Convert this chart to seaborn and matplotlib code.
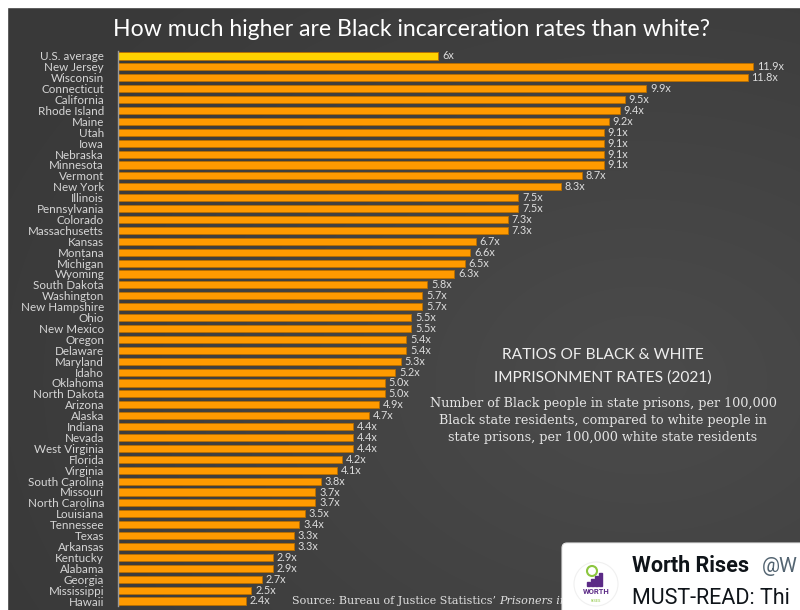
import numpy as np
import pandas as pd
import matplotlib
matplotlib.use("Agg")
import matplotlib.pyplot as plt
from matplotlib.patches import Rectangle, FancyBboxPatch, Circle
from matplotlib.transforms import Bbox
import seaborn as sns

states = ["U.S. average", "New Jersey", "Wisconsin", "Connecticut", "California",
          "Rhode Island", "Maine", "Utah", "Iowa", "Nebraska", "Minnesota", "Vermont",
          "New York", "Illinois", "Pennsylvania", "Colorado", "Massachusetts", "Kansas",
          "Montana", "Michigan", "Wyoming", "South Dakota", "Washington", "New Hampshire",
          "Ohio", "New Mexico", "Oregon", "Delaware", "Maryland", "Idaho", "Oklahoma",
          "North Dakota", "Arizona", "Alaska", "Indiana", "Nevada", "West Virginia",
          "Florida", "Virginia", "South Carolina", "Missouri", "North Carolina",
          "Louisiana", "Tennessee", "Texas", "Arkansas", "Kentucky", "Alabama",
          "Georgia", "Mississippi", "Hawaii"]
ratios = [6.0, 11.9, 11.8, 9.9, 9.5, 9.4, 9.2, 9.1, 9.1, 9.1, 9.1, 8.7, 8.3, 7.5, 7.5,
          7.3, 7.3, 6.7, 6.6, 6.5, 6.3, 5.8, 5.7, 5.7, 5.5, 5.5, 5.4, 5.4, 5.3, 5.2,
          5.0, 5.0, 4.9, 4.7, 4.4, 4.4, 4.4, 4.2, 4.1, 3.8, 3.7, 3.7, 3.5, 3.4, 3.3,
          3.3, 2.9, 2.9, 2.7, 2.5, 2.4]
value_labels = ["6x"] + [f"{v:.1f}x" for v in ratios[1:]]
groups = ["avg"] + ["state"] * (len(states) - 1)

df = pd.DataFrame({"state": states, "ratio": ratios, "group": groups})

sns.set_theme(style="white")
plt.rcParams["font.family"] = ["Lato", "DejaVu Sans"]
SERIF = ["DejaVu Serif"]

W, H = 800, 610
fig = plt.figure(figsize=(8, 6.1), dpi=100)
fig.patch.set_facecolor("white")

# background with soft radial gradient
bg = fig.add_axes([0, 0, 1, 1], zorder=0)
bg.set_axis_off()
yy, xx = np.mgrid[0:H, 0:W]
d = np.sqrt(((xx - 640) / 700.0) ** 2 + ((yy - 380) / 520.0) ** 2)
val = 0.295 - 0.07 * np.clip(d, 0, 1)
img = np.dstack([val, val, val])
bg.imshow(img, extent=[0, W, H, 0], aspect="auto", interpolation="bilinear")
bg.set_xlim(0, W); bg.set_ylim(H, 0)
bg.add_patch(Rectangle((0, 0), W, 7, color="white", zorder=2))
bg.add_patch(Rectangle((0, 0), 7, H, color="white", zorder=2))

# main chart
left_px, right_px = 118, 800
top_px, bot_px = 56 - 5.45, 601 + 5.45
ax = fig.add_axes([left_px / W, 1 - bot_px / H, (right_px - left_px) / W,
                   (bot_px - top_px) / H], zorder=3)
ax.patch.set_alpha(0)
scale = (753 - 118) / 11.9
sns.barplot(data=df, x="ratio", y="state", hue="group", orient="h",
            palette={"avg": "#FFD200", "state": "#FF9A00"}, dodge=False,
            width=0.66, legend=False, ax=ax, edgecolor="#B86E00", linewidth=0.6,
            saturation=1)
ax.set_xlim(0, (right_px - left_px) / scale)
ax.set_ylim(len(states) - 0.5, -0.5)
ax.set_xlabel(""); ax.set_ylabel("")
ax.set_xticks([])
ax.tick_params(axis="y", length=0, pad=10, labelsize=8.4, labelcolor="#d6d6d6")
for s in ["top", "right", "bottom"]:
    ax.spines[s].set_visible(False)
ax.spines["left"].set_color("#9a9a9a")
ax.spines["left"].set_linewidth(1.0)

for i, (v, lab) in enumerate(zip(ratios, value_labels)):
    ax.text(v + 0.07, i, lab, va="center", ha="left", fontsize=7.8, color="#dcdcdc")

# title
fig.text(411 / W, 1 - 30 / H, "How much higher are Black incarceration rates than white?",
         ha="center", va="center", fontsize=16.6, color="white")

# annotation
fig.text(603 / W, 1 - 355 / H, "RATIOS OF BLACK & WHITE", ha="center", va="center",
         fontsize=11.2, color="#eeeeee")
fig.text(603 / W, 1 - 378 / H, "IMPRISONMENT RATES (2021)", ha="center", va="center",
         fontsize=11.2, color="#eeeeee")
para = ["Number of Black people in state prisons, per 100,000",
        "Black state residents, compared to white people in",
        "state prisons, per 100,000 white state residents"]
for k, line in enumerate(para):
    fig.text(603 / W, 1 - (404 + 16.5 * k) / H, line, ha="center", va="center",
             fontsize=9.2, color="#e4e4e4", family=SERIF)

# source (partly hidden behind the tweet card, as in the reference)
src = fig.text(292 / W, 1 - 601 / H, "Source: Bureau of Justice Statistics\u2019 ",
               ha="left", va="center", fontsize=8.0, color="#e0e0e0", family=SERIF)
fig.canvas.draw()
bb = src.get_window_extent()
it = fig.text(bb.x1 / W, 1 - 601 / H, "Prisoners in 2", ha="left", va="center",
              fontsize=8.0, color="#e0e0e0", style="italic", family=SERIF)
it.set_clip_box(Bbox([[0, 0], [562, 80]]))
it.set_clip_on(True)

# tweet card overlay
ov = fig.add_axes([0, 0, 1, 1], zorder=10)
ov.set_axis_off(); ov.patch.set_alpha(0)
ov.set_xlim(0, W); ov.set_ylim(H, 0)
ov.add_patch(FancyBboxPatch((562, 543), 260, 90, boxstyle="round,pad=0,rounding_size=5",
                            facecolor="white", edgecolor="#e6e6e6", lw=0.8))
ov.add_patch(Circle((596, 584), 22, facecolor="white", edgecolor="#f0f0f0", lw=0.8))
ov.add_patch(Rectangle((587, 582), 3, 4, color="#5b2a86"))
ov.add_patch(Rectangle((591, 579), 3, 7, color="#5b2a86"))
ov.add_patch(Rectangle((595, 576), 3, 10, color="#5b2a86"))
ov.add_patch(Rectangle((599, 573), 3, 13, color="#5b2a86"))
ov.add_patch(Circle((592, 571), 5, facecolor="none", edgecolor="#8cc63f", lw=1.5))
ov.text(596, 592, "WORTH", ha="center", va="center", fontsize=5.5, color="#5b2a86",
        fontweight="bold", family=["Roboto", "DejaVu Sans"])
ov.text(596, 601, "RISES", ha="center", va="center", fontsize=2.8, color="#8cc63f",
        family=["Roboto", "DejaVu Sans"])
ov.text(632, 566, "Worth Rises", ha="left", va="center", fontsize=15.5,
        color="#0f1419", fontweight="bold", family=["Roboto", "DejaVu Sans"])
ov.text(762, 566, "@W", ha="left", va="center", fontsize=14.5,
        color="#536471", family=["Roboto", "DejaVu Sans"])
ov.text(632, 598, "MUST-READ: Thi", ha="left", va="center", fontsize=15.5,
        color="#0f1419", family=["Roboto", "DejaVu Sans"])

fig.savefig("out.png", dpi=100, facecolor=fig.get_facecolor())
